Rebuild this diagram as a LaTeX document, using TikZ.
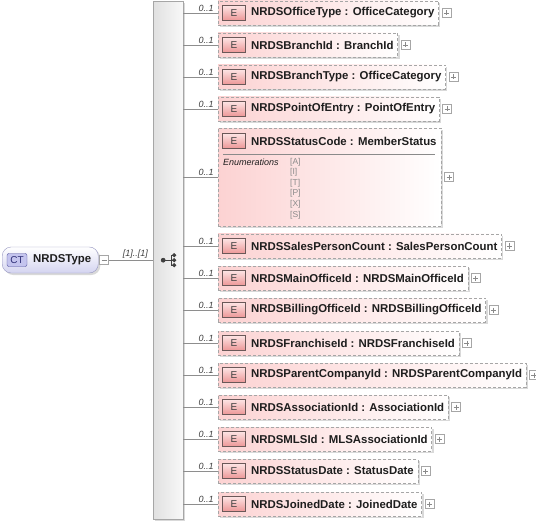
\documentclass[tikz,border=0pt]{standalone}
\usepackage{fontspec}
\setmainfont{Liberation Sans}
\usepackage{tikz}
\usetikzlibrary{calc,positioning,shadows}
\definecolor{edge}{HTML}{A6A6A6}
\definecolor{wire}{HTML}{8E8E8E}
\definecolor{pink}{HTML}{FCD2D2}
\definecolor{epink}{HTML}{EC9696}
\definecolor{elight}{HTML}{FDE4E4}
\definecolor{ebord}{HTML}{6A5858}
\definecolor{lav}{HTML}{D4D4F0}
\definecolor{lavbord}{HTML}{9898C2}
\definecolor{ctfill}{HTML}{C4C4EE}
\definecolor{ctbord}{HTML}{50509C}
\definecolor{ctext}{HTML}{2E2E76}
\definecolor{txt}{HTML}{1E1E1E}
\definecolor{muted}{HTML}{8A8A8A}
\newcommand{\elfont}{\fontsize{11.4}{13}\selectfont\bfseries}
\tikzset{
  shade/.style={drop shadow={shadow xshift=2pt, shadow yshift=-2pt, fill=black, opacity=.15}},
  elem/.style={draw=edge, dash pattern=on 3pt off 2pt, left color=pink, right color=white, minimum height=24pt, inner xsep=4pt, inner ysep=0pt, anchor=west, text=txt, font=\elfont, execute at begin node={\hspace*{29pt}}, shade},
  ebox/.style={draw=ebord, line width=.6pt, bottom color=epink, top color=elight, minimum width=23pt, minimum height=15pt, inner sep=0pt, font=\fontsize{10}{12}\selectfont, text=txt!85},
  plusbox/.style={draw=edge, fill=white, minimum size=9pt, inner sep=0pt,
    path picture={\draw[muted, line width=.6pt] ([xshift=2pt]path picture bounding box.west) -- ([xshift=-2pt]path picture bounding box.east) ([yshift=-2pt]path picture bounding box.north) -- ([yshift=2pt]path picture bounding box.south);}},
  minusbox/.style={draw=edge, fill=white, minimum size=9pt, inner sep=0pt,
    path picture={\draw[muted, line width=.6pt] ([xshift=2pt]path picture bounding box.west) -- ([xshift=-2pt]path picture bounding box.east);}},
  wire/.style={draw=wire, line width=.6pt},
  mult/.style={font=\fontsize{9}{10}\selectfont\itshape, text=txt!85, inner sep=1pt},
  enumlab/.style={font=\fontsize{9}{10}\selectfont\itshape, text=txt, inner sep=0pt, anchor=west},
  enumval/.style={font=\fontsize{8.5}{10}\selectfont, text=muted, inner sep=0pt, anchor=west},
  seqbar/.style={draw=edge, left color=gray!24, right color=gray!5, anchor=north west, minimum width=30pt, minimum height=518pt, shade},
  ctnode/.style={draw=lavbord, rounded corners=9pt, top color=white, bottom color=lav, minimum height=26pt, inner xsep=7pt, anchor=west, font=\elfont, text=txt, execute at begin node={\hspace*{24pt}}, shade},
  ctbox/.style={draw=ctbord, fill=ctfill, rounded corners=2pt, minimum width=20pt, minimum height=13pt, inner sep=0pt, font=\fontsize{10}{12}\selectfont, text=ctext},
  icon/.style={draw=txt!85, fill=txt!85, line width=.7pt},
}
\begin{document}
\begin{tikzpicture}[x=1pt, y=-1pt]
\useasboundingbox (0,0) rectangle (536,524);
% complex type and sequence
\node[ctnode] (ct) at (2,260) {NRDSType};
\node[ctbox] (ctb) at ($(ct.west)+(15,0)$) {CT};
\node[minusbox, right=1pt of ct] (ctm) {};
\node[seqbar] (seq) at (153,1) {};
\coordinate (ic) at (seq.center);
\draw[wire] (ctm.east) -- (ctm.east -| seq.west) node[mult, pos=.6, above] {[1]..[1]};
\draw[icon] ($(ic)+(-5,0)$) -- ($(ic)+(3,0)$) ($(ic)+(3,-5)$) -- ($(ic)+(3,5)$)
  ($(ic)+(3,-5)$) -- ($(ic)+(6,-5)$) ($(ic)+(3,0)$) -- ($(ic)+(6,0)$) ($(ic)+(3,5)$) -- ($(ic)+(6,5)$);
\fill[icon] ($(ic)+(-5,0)$) circle (2) ($(ic)+(6,-5)$) circle (1.7) ($(ic)+(6,0)$) circle (1.7) ($(ic)+(6,5)$) circle (1.7);
% elements
\foreach \i/\y/\nm in {1/13/{NRDSOfficeType : OfficeCategory}, 2/45/{NRDSBranchId : BranchId},
  3/77/{NRDSBranchType : OfficeCategory}, 4/109/{NRDSPointOfEntry : PointOfEntry},
  6/246/{NRDSSalesPersonCount : SalesPersonCount}, 7/278/{NRDSMainOfficeId : NRDSMainOfficeId},
  8/310/{NRDSBillingOfficeId : NRDSBillingOfficeId}, 9/343/{NRDSFranchiseId : NRDSFranchiseId},
  10/375/{NRDSParentCompanyId : NRDSParentCompanyId}, 11/407/{NRDSAssociationId : AssociationId},
  12/439/{NRDSMLSId : MLSAssociationId}, 13/471/{NRDSStatusDate : StatusDate},
  14/504/{NRDSJoinedDate : JoinedDate}}{
  \node[elem] (e\i) at (218,\y) {\nm};
  \node[ebox] (eb\i) at ($(e\i.west)+(16,0)$) {E};
}
% status code with enumerations
\node[elem, anchor=north west, minimum width=223pt, minimum height=98pt] (e5) at (218,128) {};
\node[ebox] (eb5) at (234,141) {E};
\node[anchor=west, inner sep=0pt, font=\elfont, text=txt] (e5t) at (251,141) {NRDSStatusCode : MemberStatus};
\draw[draw=muted, line width=.5pt] ($(e5.north west)+(5,26)$) coordinate (s1) -- ($(e5.north east)+(-6,26)$) coordinate (s2);
\node[enumlab] (en) at (223,162) {Enumerations};
\foreach \v [count=\k] in {A,I,T,P,X,S}
  \node[enumval] (v\k) at (290,{162+(\k-1)*10.6}) {[\v]};
% connectors
\foreach \i in {1,...,14}{
  \draw[wire] (seq.east |- e\i.west) -- (e\i.west) node[mult, pos=.66, above] {0..1};
  \node[plusbox, right=3pt of e\i.east] (p\i) {};
}
\end{tikzpicture}
\end{document}
